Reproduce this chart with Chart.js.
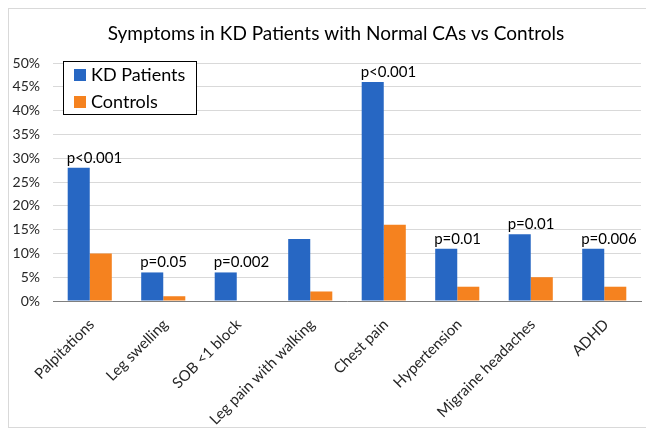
<!DOCTYPE html>
<html><head><meta charset="utf-8">
<script src="https://cdn.jsdelivr.net/npm/chart.js@4"></script>
<style>
html,body{margin:0;padding:0;background:#fff;}
#wrap{position:relative;width:646px;height:431px;}
#frame{position:absolute;left:8px;top:8px;width:660px;height:420px;border:1px solid #d9d9d9;box-sizing:border-box;pointer-events:none;}
canvas{position:absolute;left:0;top:0;}
</style></head>
<body>
<div id="wrap"><canvas id="c" width="646" height="431"></canvas><div id="frame"></div></div>
<script>
const categories = ["Palpitations","Leg swelling","SOB <1 block","Leg pain with walking","Chest pain","Hypertension","Migraine headaches","ADHD"];
const kdPatients = [28, 6, 6, 13, 46, 11, 14, 11];
const controls = [10, 1, 0, 2, 16, 3, 5, 3];
const pValues = ["p<0.001","p=0.05","p=0.002","","p<0.001","p=0.01","p=0.01","p=0.006"];
const yTicks = [0,5,10,15,20,25,30,35,40,45,50];
const chartTitle = "Symptoms in KD Patients with Normal CAs vs Controls";

const FONT = "Lato, 'Open Sans', sans-serif";

const annotPlugin = {
  id: 'annot',
  afterDatasetsDraw(chart) {
    const ctx = chart.ctx;
    const meta = chart.getDatasetMeta(0);
    ctx.save();
    ctx.font = "15px " + FONT;
    ctx.fillStyle = "#000";
    ctx.textAlign = "left";
    ctx.textBaseline = "alphabetic";
    meta.data.forEach((bar, i) => {
      const t = pValues[i];
      if (!t) return;
      const left = bar.x - bar.width / 2;
      ctx.fillText(t, left - 1, bar.y - 5);
    });
    ctx.restore();
  },
  afterDraw(chart) {
    const ctx = chart.ctx;
    ctx.save();
    // category labels, rotated 45 degrees, anchored on the scale's tick pixels
    const xs = chart.scales.x;
    ctx.font = "15px " + FONT;
    ctx.fillStyle = "#262626";
    ctx.textAlign = "right";
    ctx.textBaseline = "middle";
    xs.ticks.forEach((t, i) => {
      const px = xs.getPixelForTick(i);
      ctx.save();
      ctx.translate(px + 2, xs.top + 21);
      ctx.rotate(-Math.PI / 4);
      ctx.fillText(categories[i], 0, 0);
      ctx.restore();
    });
    // title
    ctx.font = "19px " + FONT;
    ctx.fillStyle = "#000";
    ctx.textAlign = "center";
    ctx.textBaseline = "alphabetic";
    ctx.fillText(chartTitle, 336, 40);
    // legend
    const bx = 63.5, by = 61.5, bw = 133, bh = 53;
    ctx.fillStyle = "#fff";
    ctx.fillRect(bx, by, bw, bh);
    ctx.strokeStyle = "#000";
    ctx.lineWidth = 1;
    ctx.strokeRect(bx, by, bw, bh);
    ctx.font = "18px " + FONT;
    ctx.textBaseline = "middle";
    ctx.textAlign = "left";
    chart.data.datasets.forEach((ds, i) => {
      const y = 75 + i * 27;
      ctx.fillStyle = ds.backgroundColor;
      ctx.fillRect(74, y - 6, 12, 12);
      ctx.fillStyle = "#000";
      ctx.fillText(ds.label, 91, y);
    });
    ctx.restore();
  }
};

new Chart(document.getElementById('c'), {
  type: 'bar',
  data: {
    labels: categories,
    datasets: [
      {label: 'KD Patients', data: kdPatients, backgroundColor: '#2767c3', categoryPercentage: 0.6, barPercentage: 1.0},
      {label: 'Controls', data: controls, backgroundColor: '#f5821f', categoryPercentage: 0.6, barPercentage: 1.0}
    ]
  },
  options: {
    responsive: false,
    animation: false,
    layout: {padding: {left: 8, right: 5, top: 63, bottom: 0}},
    plugins: {
      legend: {display: false},
      tooltip: {enabled: false},
      title: {display: false}
    },
    scales: {
      x: {
        afterFit(axis) { axis.height = 130; },
        grid: {display: false, drawTicks: false},
        border: {color: '#7f7f7f', width: 1},
        ticks: {display: false}
      },
      y: {
        min: 0, max: 50,
        afterBuildTicks(axis) { axis.ticks = yTicks.map(v => ({value: v})); },
        afterFit(axis) { axis.width = 45; },
        grid: {color: '#d9d9d9', drawTicks: false},
        border: {display: false},
        ticks: {
          color: '#262626',
          font: {family: FONT, size: 14},
          padding: 13,
          callback: v => v + '%'
        }
      }
    }
  },
  plugins: [annotPlugin]
});
</script>
</body></html>
